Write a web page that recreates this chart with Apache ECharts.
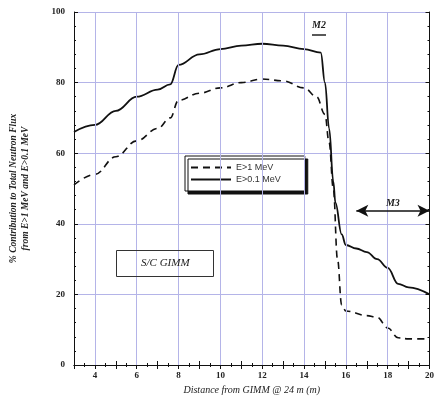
<!DOCTYPE html>
<html>
<head>
<meta charset="utf-8">
<script src="https://cdn.jsdelivr.net/npm/echarts@6/dist/echarts.min.js"></script>
<style>
  html, body { margin: 0; padding: 0; background: #fff; }
  #chart { width: 437px; height: 402px; }
</style>
</head>
<body>
<div id="chart"></div>
<script>
// E>0.1 MeV (solid)
const solidX = [3, 4, 5, 6, 7, 7.6, 8, 9, 10, 11, 12, 13, 14, 14.8, 15, 15.2, 15.4, 15.5, 15.8, 16, 16.5, 17, 17.5, 18, 18.5, 19, 20];
const solidY = [66, 68, 72, 76, 78, 79.5, 85, 88, 89.5, 90.5, 91, 90.5, 89.5, 88.5, 80, 67, 52, 46, 37, 34, 33, 32, 30, 27.5, 23, 22, 20];
// E>1 MeV (dashed)
const dashX = [3, 4, 5, 6, 7, 7.6, 8, 9, 10, 11, 12, 13, 14, 14.6, 15, 15.2, 15.4, 15.6, 15.8, 16, 17, 17.5, 18, 18.5, 19, 20];
const dashY = [51, 54, 59, 63.5, 67, 70, 75, 77, 78.5, 80, 81, 80.5, 78.5, 76, 71, 63, 50, 30, 17, 15.3, 14, 13.5, 10.5, 7.7, 7.4, 7.4];
const xGridValues = [4, 6, 8, 10, 12, 14, 16, 18];
const m3Range = [16.5, 20];
const m3Level = 43.7;

const chart = echarts.init(document.getElementById('chart'));

const serif = 'Liberation Serif';
const pair = (xs, ys) => xs.map((x, i) => [x, ys[i]]);

const option = {
  animation: false,
  backgroundColor: '#fff',
  grid: { left: 73, right: 5, top: 12, bottom: 37 },
  legend: {
    orient: 'vertical',
    left: 185,
    top: 156,
    padding: [7, 24, 7, 5],
    itemGap: 3,
    itemWidth: 40,
    itemHeight: 10,
    itemStyle: { opacity: 0 },
    backgroundColor: '#fff',
    borderColor: '#111',
    borderWidth: 1,
    borderRadius: 0,
    shadowColor: '#111',
    shadowOffsetX: 3,
    shadowOffsetY: 3,
    shadowBlur: 0,
    textStyle: { fontFamily: 'Liberation Sans', fontSize: 9, color: '#333' },
    data: ['E>1 MeV', 'E>0.1 MeV']
  },
  title: {
    text: 'S/C GIMM',
    left: 116,
    top: 250,
    padding: [8, 24, 8, 25],
    borderColor: '#333',
    borderWidth: 1,
    textStyle: { fontFamily: serif, fontStyle: 'italic', fontWeight: 'normal', fontSize: 11, color: '#222' }
  },
  xAxis: [{
    type: 'value',
    min: 3,
    max: 20,
    interval: 1,
    name: 'Distance from GIMM @ 24 m (m)',
    nameLocation: 'middle',
    nameGap: 20,
    nameTextStyle: { fontFamily: serif, fontStyle: 'italic', fontSize: 10, color: '#222' },
    axisLine: { lineStyle: { color: '#111', width: 1 } },
    axisTick: { inside: true, length: 4, lineStyle: { color: '#111' } },
    minorTick: { show: true, splitNumber: 2, length: 2, lineStyle: { color: '#111' } },
    axisLabel: {
      fontFamily: serif, fontWeight: 'bold', fontSize: 9, color: '#222', margin: 6,
      formatter: v => (v % 2 === 0 ? String(v) : '')
    },
    splitLine: { show: false }
  }, {
    type: 'value',
    position: 'top',
    min: 3,
    max: 20,
    interval: 1,
    axisLine: { show: true, lineStyle: { color: '#111' } },
    axisTick: { inside: true, length: 4, lineStyle: { color: '#111' } },
    minorTick: { show: true, splitNumber: 2, length: 2, lineStyle: { color: '#111' } },
    axisLabel: { show: false },
    splitLine: { show: false }
  }],
  yAxis: [{
    type: 'value',
    min: 0,
    max: 100,
    interval: 20,
    name: '% Contribution to Total Neutron Flux\nfrom E>1 MeV and E>0.1 MeV',
    nameLocation: 'middle',
    nameRotate: 90,
    nameGap: 42,
    nameTextStyle: { fontFamily: serif, fontStyle: 'italic', fontWeight: 'bold', fontSize: 9.5, lineHeight: 12, color: '#222' },
    axisLine: { show: true, lineStyle: { color: '#111' } },
    axisTick: { inside: true, length: 4, lineStyle: { color: '#111' } },
    minorTick: { show: true, splitNumber: 5, length: 2, lineStyle: { color: '#111' } },
    axisLabel: { fontFamily: serif, fontWeight: 'bold', fontSize: 9, color: '#222', margin: 9 },
    splitLine: { show: true, lineStyle: { color: '#b4b4e8', width: 1 } }
  }, {
    type: 'value',
    position: 'right',
    min: 0,
    max: 100,
    interval: 20,
    axisLine: { show: true, lineStyle: { color: '#111' } },
    axisTick: { inside: true, length: 4, lineStyle: { color: '#111' } },
    minorTick: { show: true, splitNumber: 5, length: 2, lineStyle: { color: '#111' } },
    axisLabel: { show: false },
    splitLine: { show: false }
  }],
  graphic: [
    {
      type: 'text', left: 312, top: 20,
      style: { text: 'M2', fontFamily: serif, fontStyle: 'italic', fontWeight: 'bold', fontSize: 10, fill: '#222' }
    },
    {
      type: 'line', shape: { x1: 312, y1: 35, x2: 326, y2: 35 },
      style: { stroke: '#222', lineWidth: 1.5 }
    }
  ],
  series: [
    {
      name: 'grid',
      type: 'line',
      data: [],
      silent: true,
      z: 1,
      markLine: {
        silent: true,
        symbol: 'none',
        label: { show: false },
        lineStyle: { color: '#b4b4e8', type: 'solid', width: 1 },
        data: xGridValues.map(v => ({ xAxis: v }))
      }
    },
    {
      name: 'E>1 MeV',
      type: 'line',
      data: pair(dashX, dashY),
      symbol: 'none',
      smooth: 0.4,
      smoothMonotone: 'x',
      color: '#111',
      lineStyle: { color: '#111', width: 1.6, type: [7, 5] },
      z: 3
    },
    {
      name: 'E>0.1 MeV',
      type: 'line',
      data: pair(solidX, solidY),
      symbol: 'none',
      smooth: 0.4,
      smoothMonotone: 'x',
      color: '#111',
      lineStyle: { color: '#111', width: 1.8 },
      z: 3,
      markLine: {
        silent: true,
        symbol: ['arrow', 'arrow'],
        symbolSize: [9, 12],
        lineStyle: { color: '#111', type: 'solid', width: 1.5 },
        label: {
          show: true, position: 'middle', formatter: 'M3', distance: 2,
          fontFamily: serif, fontStyle: 'italic', fontWeight: 'bold', fontSize: 10, color: '#222'
        },
        data: [[{ coord: [m3Range[0], m3Level] }, { coord: [m3Range[1], m3Level] }]]
      }
    }
  ]
};

chart.setOption(option);
</script>
</body>
</html>
